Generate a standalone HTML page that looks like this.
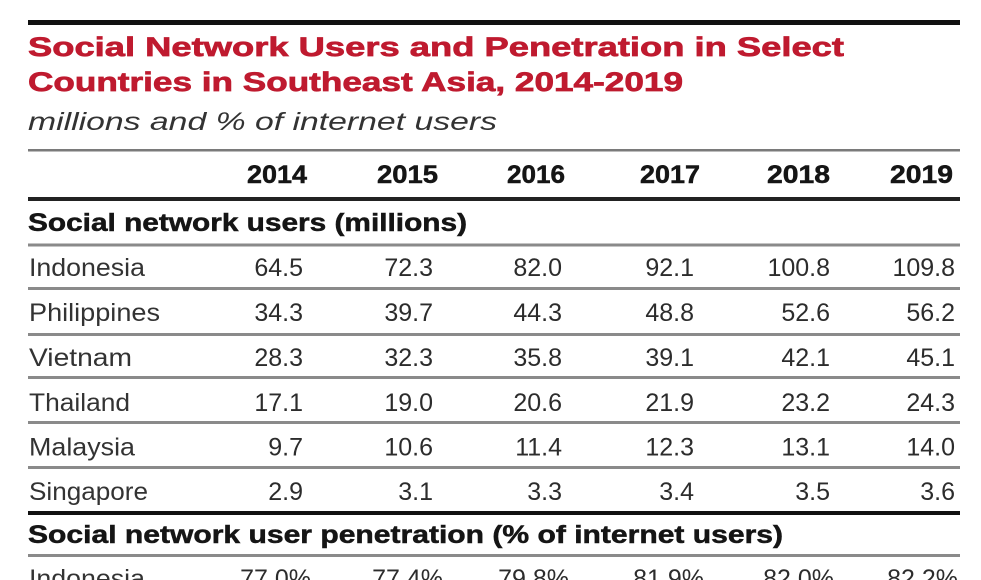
<!DOCTYPE html>
<html>
<head>
<meta charset="utf-8">
<style>
html,body{margin:0;padding:0;background:#fff;}
svg{display:block;}
text{font-family:"Liberation Sans",Arial,sans-serif;}
.t{font-weight:bold;font-size:27px;fill:#bf1a2f;stroke:#bf1a2f;stroke-width:0.7px;}
.sub{font-style:italic;font-size:25px;fill:#333;}
.h{font-weight:bold;font-size:25px;fill:#151515;text-anchor:end;stroke:#151515;stroke-width:0.5px;}
.sec{font-weight:bold;font-size:25px;fill:#151515;stroke:#151515;stroke-width:0.5px;}
.lab{font-size:25px;fill:#333;}
.n{font-size:25px;fill:#2c2c2c;text-anchor:end;}
</style>
</head>
<body>
<svg width="981" height="580" viewBox="0 0 981 580" xmlns="http://www.w3.org/2000/svg">
<rect width="981" height="580" fill="#fff"/>
<!-- rules -->
<rect x="28" y="20" width="932" height="5" fill="#111"/>
<rect x="28" y="149" width="932" height="2.5" fill="#7a7a7a"/>
<rect x="28" y="197" width="932" height="4" fill="#222"/>
<rect x="28" y="243.5" width="932" height="3" fill="#8a8a8a"/>
<rect x="28" y="287" width="932" height="3" fill="#8a8a8a"/>
<rect x="28" y="333" width="932" height="3" fill="#8a8a8a"/>
<rect x="28" y="376" width="932" height="3" fill="#8a8a8a"/>
<rect x="28" y="421" width="932" height="3" fill="#8a8a8a"/>
<rect x="28" y="466" width="932" height="3" fill="#8a8a8a"/>
<rect x="28" y="511" width="932" height="4" fill="#111"/>
<rect x="28" y="554" width="932" height="3" fill="#8a8a8a"/>

<!-- title -->
<text class="t" x="28" y="56" textLength="816" lengthAdjust="spacingAndGlyphs">Social Network Users and Penetration in Select</text>
<text class="t" x="28" y="91" textLength="655" lengthAdjust="spacingAndGlyphs">Countries in Southeast Asia, 2014-2019</text>
<text class="sub" x="28" y="130" textLength="469" lengthAdjust="spacingAndGlyphs">millions and % of internet users</text>

<!-- header -->
<text class="h" x="307" y="183" textLength="60" lengthAdjust="spacingAndGlyphs">2014</text>
<text class="h" x="438" y="183" textLength="61" lengthAdjust="spacingAndGlyphs">2015</text>
<text class="h" x="565" y="183" textLength="58" lengthAdjust="spacingAndGlyphs">2016</text>
<text class="h" x="700" y="183" textLength="60" lengthAdjust="spacingAndGlyphs">2017</text>
<text class="h" x="830" y="183" textLength="63" lengthAdjust="spacingAndGlyphs">2018</text>
<text class="h" x="953" y="183" textLength="63" lengthAdjust="spacingAndGlyphs">2019</text>

<text class="sec" x="28" y="231" textLength="439" lengthAdjust="spacingAndGlyphs">Social network users (millions)</text>

<!-- rows -->
<text class="lab" x="29" y="276" textLength="116" lengthAdjust="spacingAndGlyphs">Indonesia</text>
<text class="lab" x="29" y="321" textLength="131" lengthAdjust="spacingAndGlyphs">Philippines</text>
<text class="lab" x="29" y="366" textLength="103" lengthAdjust="spacingAndGlyphs">Vietnam</text>
<text class="lab" x="29" y="411" textLength="101" lengthAdjust="spacingAndGlyphs">Thailand</text>
<text class="lab" x="29" y="455.5" textLength="106" lengthAdjust="spacingAndGlyphs">Malaysia</text>
<text class="lab" x="29" y="500" textLength="119" lengthAdjust="spacingAndGlyphs">Singapore</text>

<g class="rows">
<text class="n" x="303" y="276">64.5</text><text class="n" x="433" y="276">72.3</text><text class="n" x="562" y="276">82.0</text><text class="n" x="694" y="276">92.1</text><text class="n" x="830" y="276">100.8</text><text class="n" x="955" y="276">109.8</text>
<text class="n" x="303" y="321">34.3</text><text class="n" x="433" y="321">39.7</text><text class="n" x="562" y="321">44.3</text><text class="n" x="694" y="321">48.8</text><text class="n" x="830" y="321">52.6</text><text class="n" x="955" y="321">56.2</text>
<text class="n" x="303" y="366">28.3</text><text class="n" x="433" y="366">32.3</text><text class="n" x="562" y="366">35.8</text><text class="n" x="694" y="366">39.1</text><text class="n" x="830" y="366">42.1</text><text class="n" x="955" y="366">45.1</text>
<text class="n" x="303" y="411">17.1</text><text class="n" x="433" y="411">19.0</text><text class="n" x="562" y="411">20.6</text><text class="n" x="694" y="411">21.9</text><text class="n" x="830" y="411">23.2</text><text class="n" x="955" y="411">24.3</text>
<text class="n" x="303" y="455.5">9.7</text><text class="n" x="433" y="455.5">10.6</text><text class="n" x="562" y="455.5">11.4</text><text class="n" x="694" y="455.5">12.3</text><text class="n" x="830" y="455.5">13.1</text><text class="n" x="955" y="455.5">14.0</text>
<text class="n" x="303" y="500">2.9</text><text class="n" x="433" y="500">3.1</text><text class="n" x="562" y="500">3.3</text><text class="n" x="694" y="500">3.4</text><text class="n" x="830" y="500">3.5</text><text class="n" x="955" y="500">3.6</text>
</g>

<text class="sec" x="28" y="543" textLength="755" lengthAdjust="spacingAndGlyphs">Social network user penetration (% of internet users)</text>

<text class="lab" x="29" y="587" textLength="116" lengthAdjust="spacingAndGlyphs">Indonesia</text>
<text class="n" x="311" y="587">77.0%</text><text class="n" x="443" y="587">77.4%</text><text class="n" x="569" y="587">79.8%</text><text class="n" x="704" y="587">81.9%</text><text class="n" x="834" y="587">82.0%</text><text class="n" x="958" y="587">82.2%</text>
</svg>
</body>
</html>
